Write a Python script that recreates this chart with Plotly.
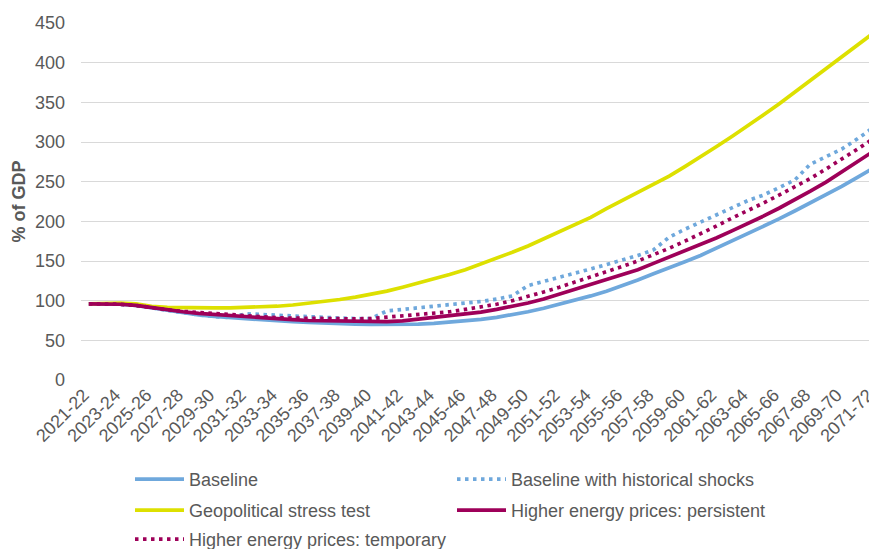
import plotly.graph_objects as go

years = [f"{y}-{str(y + 1)[-2:]}" for y in range(2021, 2072)]
tick_labels = years[::2]

baseline = [96, 96, 95.5, 94, 91, 87, 84, 82, 80, 78.5,
            77, 75.5, 74.5, 73.5, 72.5, 71.5, 71, 70.5, 70, 70,
            70, 70.5, 71.5, 73, 74.5, 76.5, 79, 82, 86, 90.5,
            95.5, 100.5, 106, 112, 118.5, 126, 134, 141, 149, 157,
            166, 175, 184, 193, 203, 213, 223, 234, 244, 255.5, 267]

hist_shocks = [96, 96, 95.5, 94, 91, 87, 84, 82, 80, 78.5,
               83.5, 82.5, 81, 80, 79, 78.5, 78, 77.5, 77.5, 87,
               89, 91, 92.5, 94, 96.5, 99, 102, 106, 119, 124,
               129.5, 135, 140, 145.5, 151, 157, 164, 180, 190, 199,
               208, 217, 226, 233, 242, 252, 272, 282, 291, 304, 318]

geopolitical = [96, 97, 97, 96, 93, 91.5, 91, 91, 91, 91,
                91.5, 92, 93, 94.5, 96.5, 99, 101.5, 104.5, 108, 112,
                117, 122, 127.5, 133, 139, 146, 153, 161, 169, 178,
                187, 195, 205, 216, 226, 237, 247, 257, 269, 281,
                294, 307, 320, 334, 348, 363, 378, 393, 408, 423, 437]

energy_persistent = [96, 96, 95.5, 94, 91, 88, 86, 84, 82.5, 81,
                     79.5, 78, 77, 76, 75, 74.5, 74, 73.5, 73.5, 73.5,
                     74.5, 76.5, 78.5, 80.5, 83, 85.5, 89, 92.5, 97, 102,
                     108, 114, 120, 126, 132, 139, 147, 155, 163, 170.5,
                     179, 188, 197, 206.5, 216.5, 227, 238, 249.5, 262, 275, 288]

energy_temporary = [96, 96, 95.5, 94, 91, 88.5, 86.5, 85, 83.5, 82,
                    80.5, 79.5, 78.5, 78, 77.5, 77, 77, 77, 77.5, 79,
                    80.5, 82, 84, 86, 89, 92, 95.5, 100, 105, 111,
                    117, 123.5, 129, 135.5, 143, 150, 157.5, 166, 175, 184,
                    194, 204, 213, 223, 233, 243, 254, 266, 278, 291, 304]

BLUE = "#6FA8DC"
YELLOW = "#DDE000"
PURPLE = "#9E0059"
GREY = "#595959"
FONT = "Liberation Sans, Arial, sans-serif"
DOT = "3.5px,4.5px"

# the page body has an 8px default margin, so layout is offset by -8px
OFF = 8

fig = go.Figure()
fig.add_trace(go.Scatter(x=years, y=baseline, name="Baseline", mode="lines",
                         line=dict(color=BLUE, width=3.7), legend="legend"))
fig.add_trace(go.Scatter(x=years, y=hist_shocks, name="Baseline with historical shocks",
                         mode="lines", line=dict(color=BLUE, width=3.7, dash=DOT),
                         legend="legend"))
fig.add_trace(go.Scatter(x=years, y=geopolitical, name="Geopolitical stress test",
                         mode="lines", line=dict(color=YELLOW, width=3.7), legend="legend2"))
fig.add_trace(go.Scatter(x=years, y=energy_persistent, name="Higher energy prices: persistent",
                         mode="lines", line=dict(color=PURPLE, width=3.7), legend="legend2"))
fig.add_trace(go.Scatter(x=years, y=energy_temporary, name="Higher energy prices: temporary",
                         mode="lines", line=dict(color=PURPLE, width=3.7, dash=DOT),
                         legend="legend3"))


def leg(top_px):
    return dict(orientation="h", xref="container", yref="container",
                x=(130 - OFF) / 877, xanchor="left", y=1 - (top_px - OFF) / 549,
                yanchor="top",
                entrywidth=258, entrywidthmode="pixels", itemwidth=49,
                font=dict(size=18, color=GREY, family=FONT), traceorder="normal",
                bgcolor="rgba(0,0,0,0)")


fig.update_layout(
    width=877, height=549,
    margin=dict(l=81 - OFF, r=OFF, t=23 - OFF, b=169 + OFF, autoexpand=False),
    paper_bgcolor="white", plot_bgcolor="white",
    font=dict(family=FONT, size=18, color=GREY),
    showlegend=True,
    legend=leg(461), legend2=leg(492), legend3=leg(521),
)
fig.update_xaxes(type="category", categoryorder="array", categoryarray=years,
                 tickmode="array", tickvals=tick_labels, ticktext=tick_labels,
                 tickangle=-45, showgrid=False, showline=False, ticks="",
                 automargin=False, ticklabelshift=-5,
                 tickfont=dict(size=18, color=GREY), range=[-0.5, 50.25])
fig.update_yaxes(range=[0, 450], dtick=50, tick0=0, showgrid=True, gridcolor="#D9D9D9",
                 gridwidth=1, zeroline=False, showline=False, ticks="",
                 automargin=False, ticklabelstandoff=15,
                 tickfont=dict(size=18, color=GREY),
                 title=dict(text="<b>% of GDP</b>", font=dict(size=18, color=GREY), standoff=4))

fig.write_html("out.html")
